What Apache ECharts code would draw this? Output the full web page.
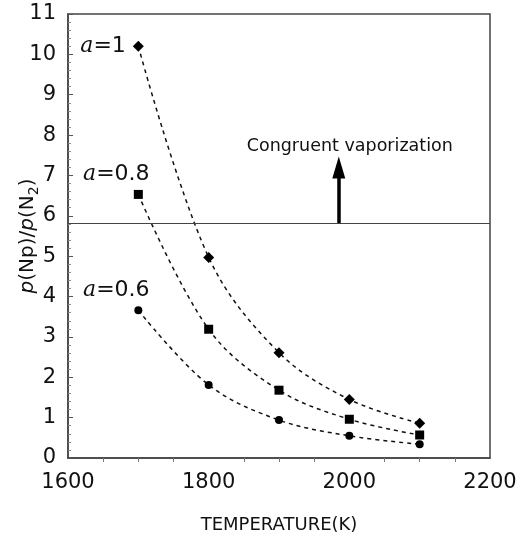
<!DOCTYPE html>
<html><head><meta charset="utf-8">
<script src="https://cdn.jsdelivr.net/npm/echarts@6/dist/echarts.min.js"></script>
<style>html,body{margin:0;padding:0;background:#fff}#c{width:524px;height:540px}</style>
</head><body><div id="c"></div>
<script>
var temps = [1700, 1800, 1900, 2000, 2100];
var a1 = [10.2, 4.97, 2.61, 1.45, 0.86];
var a08 = [6.53, 3.19, 1.68, 0.96, 0.57];
var a06 = [3.66, 1.81, 0.94, 0.55, 0.34];
var congruentLevel = 5.82;
var arrowX = 1985;
var arrowTop = 7.2;
var seriesNames = ['1', '0.8', '0.6'];

var chart = echarts.init(document.getElementById('c'));
var font = 'DejaVu Sans, Verdana, sans-serif';
function pairs(v) { return temps.map(function (t, i) { return [t, v[i]]; }); }
function mk(name, vals, symbol, size, dash, labelPos, labelOffset) {
  var d = pairs(vals).map(function (p, i) {
    var o = { value: p };
    if (i === 0) {
      o.label = {
        show: true, position: labelPos, offset: labelOffset,
        formatter: '{i|a}{n|=' + name + '}',
        rich: {
          i: { fontFamily: 'DejaVu Serif, Times New Roman, serif', fontStyle: 'italic', fontSize: 22, color: '#111' },
          n: { fontFamily: font, fontSize: 22, color: '#111' }
        }
      };
    }
    return o;
  });
  return {
    type: 'line', name: name, data: d, smooth: 0.35,
    symbol: symbol, symbolSize: size,
    itemStyle: { color: '#000' },
    lineStyle: { color: '#111', width: 1.5, type: dash },
    z: 3
  };
}
var option = {
  animation: false,
  grid: { left: 68, right: 34, top: 14, bottom: 82, show: true, borderColor: '#444', borderWidth: 1.5,
    containLabel: false, outerBoundsMode: 'none' },
  xAxis: {
    type: 'value', min: 1600, max: 2200, interval: 200,
    name: 'TEMPERATURE(K)', nameLocation: 'middle', nameGap: 58,
    nameTextStyle: { fontFamily: font, fontSize: 18, color: '#111' },
    axisLine: { show: true, lineStyle: { color: '#444', width: 1.5 } },
    axisTick: { show: false },
    minorTick: { show: true, splitNumber: 4, length: 4, lineStyle: { color: '#777' } },
    splitLine: { show: false },
    axisLabel: { fontFamily: font, fontSize: 21, color: '#111', margin: 14, formatter: function (v) { return String(v); } }
  },
  yAxis: {
    type: 'value', min: 0, max: 11, interval: 1,
    name: '{i|p}{n|(Np)/}{i|p}{n|(N}{s|2}{n|)}', nameLocation: 'middle', nameGap: 27,
    nameMoveOverlap: false,
    nameTextStyle: {
      rich: {
        i: { fontFamily: font, fontStyle: 'italic', fontSize: 20, color: '#111' },
        n: { fontFamily: font, fontSize: 20, color: '#111' },
        s: { fontFamily: font, fontSize: 14, color: '#111', verticalAlign: 'bottom', padding: [12, 0, 0, 0] }
      }
    },
    axisLine: { show: true, lineStyle: { color: '#444', width: 1.5 } },
    axisTick: { show: true, inside: true, length: 5, lineStyle: { color: '#555' } },
    minorTick: { show: true, splitNumber: 5, length: 3, lineStyle: { color: '#888' } },
    splitLine: { show: false },
    axisLabel: { fontFamily: font, fontSize: 21, color: '#111', margin: 12 }
  },
  series: [
    mk(seriesNames[0], a1, 'diamond', 11, [4, 4], 'left', [-2, 0]),
    mk(seriesNames[1], a08, 'rect', 9, [4, 4], 'top', [-22, 0]),
    mk(seriesNames[2], a06, 'circle', 8, [4, 4], 'top', [-22, 0]),
    {
      type: 'line', data: [], silent: true,
      markLine: {
        silent: true, symbol: 'none', animation: false,
        label: { show: false },
        lineStyle: { color: '#444', width: 1, type: 'solid' },
        data: [
          [{ coord: [1600, congruentLevel] }, { coord: [2200, congruentLevel] }]
        ]
      }
    },
    {
      type: 'line', data: [], silent: true,
      markLine: {
        silent: true, symbol: ['none', 'triangle'], symbolSize: [13, 22], animation: false,
        label: { show: true, position: 'end', distance: 12, formatter: 'Congruent vaporization',
          fontFamily: font, fontSize: 17.5, color: '#111', padding: [0, 0, 0, 22] },
        lineStyle: { color: '#000', width: 3.5, type: 'solid' },
        data: [
          [{ coord: [arrowX, congruentLevel] }, { coord: [arrowX, arrowTop] }]
        ]
      }
    }
  ]
};
chart.setOption(option);
</script></body></html>
